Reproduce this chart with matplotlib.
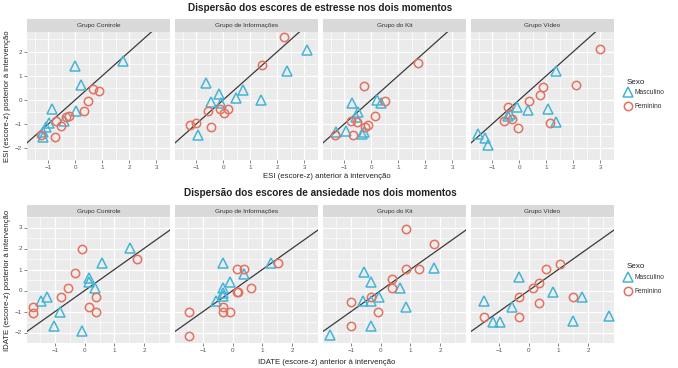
import matplotlib
matplotlib.use("Agg")
import matplotlib.pyplot as plt
from matplotlib.lines import Line2D
import numpy as np

plt.rcParams['font.family'] = ['Liberation Sans', 'DejaVu Sans']

groups = ["Grupo Controle", "Grupo de Informações", "Grupo do Kit", "Grupo Vídeo"]
sexo = ["Masculino", "Feminino"]

# ---------- ESI (stress) : (x before, y after) per group and sex ----------
esi_m_x = [
    [-0.03, 0.20, 1.77, 0.01, -0.87, -0.43, -0.96, -1.08, -1.20, -1.20],
    [3.10, 2.36, -0.63, 0.74, -0.18, 0.45, 1.40, -0.45, -0.08, -0.95],
    [-0.70, 0.19, 0.37, -0.49, -0.58, -0.29, -0.94, -1.32, -0.35],
    [1.37, -0.07, 0.32, 1.06, -0.33, -0.42, 1.37, -1.52, -1.29, -1.17],
]
esi_m_y = [
    [1.38, 0.62, 1.60, -0.45, -0.38, -0.90, -0.96, -1.15, -1.35, -1.54],
    [2.05, 1.19, 0.68, 0.42, 0.22, 0.06, -0.03, -0.10, -0.13, -1.47],
    [-0.15, 0.00, -0.13, -0.51, -0.70, -1.35, -1.28, -1.35, -1.43],
    [1.19, -0.32, -0.41, -0.38, -0.58, -0.68, -0.94, -1.41, -1.60, -1.88],
]
esi_f_x = [
    [0.64, 0.86, 0.46, 0.32, -0.25, -0.33, -0.70, -0.55, -1.26, -0.75],
    [2.25, 1.42, -0.12, 0.18, 0.02, -0.56, -1.00, -1.22, -0.44],
    [1.74, -0.26, 0.49, 0.13, -0.74, -0.52, -0.11, -0.22, -1.33, -0.67],
    [2.97, 2.10, 0.86, 0.76, 0.35, -0.42, -0.28, -0.57, 1.13, -0.06],
]
esi_f_y = [
    [0.45, 0.35, -0.04, -0.45, -0.68, -0.70, -0.90, -1.09, -1.45, -1.56],
    [2.60, 1.44, -0.38, -0.38, -0.55, -0.47, -0.96, -1.06, -1.12],
    [1.51, 0.58, -0.04, -0.68, -0.90, -0.94, -1.03, -1.15, -1.45, -1.47],
    [2.09, 0.60, 0.51, 0.19, -0.04, -0.29, -0.81, -0.87, -0.96, -1.19],
]

# ---------- IDATE (anxiety) ----------
idate_m_x = [
    [1.54, 0.60, 0.13, 0.13, 0.36, -1.28, -1.48, -0.83, -1.03, -0.10],
    [-0.34, 1.28, 0.38, -0.10, -0.32, -0.34, -0.32, -0.55],
    [1.80, -0.57, -0.32, 0.64, -0.06, -0.60, -0.32, 0.85, -0.32, -1.73],
    [-0.34, 0.82, 1.79, -1.51, -0.58, 2.70, -1.20, -0.96, 1.51],
]
idate_m_y = [
    [2.01, 1.30, 0.58, 0.42, 0.13, -0.33, -0.51, -1.01, -1.68, -1.93],
    [1.30, 1.29, 0.80, 0.39, 0.13, -0.12, -0.26, -0.51],
    [1.07, 0.86, 0.39, 0.13, -0.30, -0.51, -0.51, -0.77, -1.68, -2.14],
    [0.64, -0.07, -0.30, -0.51, -0.77, -1.23, -1.49, -1.49, -1.47],
]
idate_f_x = [
    [-0.10, 1.77, -0.32, -0.57, -0.80, 0.38, -1.74, 0.13, -1.74, 0.38],
    [1.54, 0.13, 0.38, 0.62, 0.13, 0.19, -0.32, -1.47, -0.32, -0.10, -1.47],
    [0.85, 1.80, 0.85, 1.30, 0.38, 0.38, -0.32, -1.02, -0.09, -1.02],
    [1.06, 0.59, 0.36, 0.13, -0.34, 1.51, 0.36, -1.51, -0.34],
]
idate_f_y = [
    [1.99, 1.52, 0.83, 0.13, -0.33, -0.33, -0.80, -0.80, -1.06, -1.03],
    [1.29, 1.04, 1.04, 0.13, -0.09, -0.09, -0.80, -1.03, -1.03, -1.03, -2.19],
    [2.93, 2.20, 1.04, 1.04, 0.57, 0.13, -0.33, -0.55, -1.03, -1.71],
    [1.26, 1.04, 0.36, 0.10, -0.33, -0.33, -0.58, -1.27, -1.27],
]

titles = ["Dispersão dos escores de estresse nos dois momentos",
          "Dispersão dos escores de ansiedade nos dois momentos"]
xlabels = ["ESI (escore-z) anterior à intervenção",
           "IDATE (escore-z) anterior à intervenção"]
ylabels = ["ESI (escore-z) posterior à intervenção",
           "IDATE (escore-z) posterior à intervenção"]

xticks = [[-1, 0, 1, 2, 3], [-1, 0, 1, 2]]
yticks = [[-2, -1, 0, 1, 2], [-2, -1, 0, 1, 2, 3]]
xlims = [(-1.79, 3.32), (-1.95, 2.88)]
ylims = [(-2.12, 2.81), (-2.35, 3.13)]

C_M = "#45B4D8"
C_F = "#E4705E"
MS_T, MS_C, MEW = 6.8, 6.0, 1.1

W, H = 678, 368
fig = plt.figure(figsize=(W / 100, H / 100), dpi=100)

def px(x0, y0, w, h):
    return [x0 / W, 1 - (y0 + h) / H, w / W, h / H]

panel_left = [27, 175, 323, 471]
panel_w = 143
rows = [
    dict(strip_top=19, top=32, bottom=160, title_y=8, xlab_y=177,
         mx=esi_m_x, my=esi_m_y, fx=esi_f_x, fy=esi_f_y, leg_y=82),
    dict(strip_top=205, top=217, bottom=343, title_y=193, xlab_y=362,
         mx=idate_m_x, my=idate_m_y, fx=idate_f_x, fy=idate_f_y, leg_y=267),
]

tick_col = "#555555"
for r, row in enumerate(rows):
    ph = row["bottom"] - row["top"]
    for g in range(4):
        ax = fig.add_axes(px(panel_left[g], row["top"], panel_w, ph))
        ax.set_facecolor("#EBEBEB")
        ax.set_xlim(*xlims[r])
        ax.set_ylim(*ylims[r])
        xt = np.array(xticks[r]); yt = np.array(yticks[r])
        ax.set_xticks(xt)
        ax.set_yticks(yt)
        ax.set_xticks(np.concatenate([xt - 0.5, [xt[-1] + 0.5]]), minor=True)
        ax.set_yticks(np.concatenate([yt - 0.5, [yt[-1] + 0.5]]), minor=True)
        ax.grid(which="major", color="white", lw=0.9)
        ax.grid(which="minor", color="white", lw=0.45)
        ax.set_axisbelow(True)
        for s in ax.spines.values():
            s.set_visible(False)
        ax.tick_params(which="minor", length=0)
        ax.tick_params(which="major", length=2, width=0.5, color=tick_col,
                       labelsize=4.5, labelcolor=tick_col, pad=1.5)
        if g > 0:
            ax.tick_params(axis="y", labelleft=False, length=0)
        ax.axline((0, 0), slope=1, color="#3A3A3A", lw=0.9, zorder=2)
        ax.plot(row["mx"][g], row["my"][g], linestyle="none", marker="^",
                ms=MS_T, mfc="none", mec=C_M, mew=MEW, zorder=3)
        ax.plot(row["fx"][g], row["fy"][g], linestyle="none", marker="o",
                ms=MS_C, mfc="none", mec=C_F, mew=MEW, zorder=3)
        # strip
        sax = fig.add_axes(px(panel_left[g], row["strip_top"], panel_w, row["top"] - row["strip_top"]))
        sax.set_facecolor("#D9D9D9")
        sax.set_xticks([]); sax.set_yticks([])
        for s in sax.spines.values():
            s.set_visible(False)
        sax.text(0.5, 0.5, groups[g], ha="center", va="center", fontsize=4.6,
                 color="#333333", transform=sax.transAxes)
    cx = (panel_left[0] + panel_left[3] + panel_w) / 2
    fig.text(cx / W, 1 - row["title_y"] / H, titles[r], ha="center", va="center",
             fontsize=7.2, fontweight="bold", color="#222222")
    fig.text(327 / W, 1 - row["xlab_y"] / H, xlabels[r], ha="center", va="center",
             fontsize=5.6, color="#222222")
    fig.text(8 / W, 1 - (row["top"] + row["bottom"]) / 2 / H, ylabels[r], ha="center",
             va="center", rotation=90, fontsize=5.6, color="#222222")
    # legend
    ly = row["leg_y"]
    fig.text(627 / W, 1 - ly / H, "Sexo", ha="left", va="center", fontsize=5.8, color="#222222")
    handles = [Line2D([], [], linestyle="none", marker="^", ms=MS_T, mfc="none", mec=C_M, mew=MEW),
               Line2D([], [], linestyle="none", marker="o", ms=MS_C, mfc="none", mec=C_F, mew=MEW)]
    leg = fig.legend(handles, sexo, loc="upper left",
                     bbox_to_anchor=(623 / W, 1 - (ly + 6) / H), frameon=False,
                     fontsize=4.8, handlelength=1.0, handletextpad=0.5,
                     labelspacing=1.05, borderpad=0.2, borderaxespad=0)
    for t in leg.get_texts():
        t.set_color("#333333")

fig.savefig("out.png", dpi=100)
